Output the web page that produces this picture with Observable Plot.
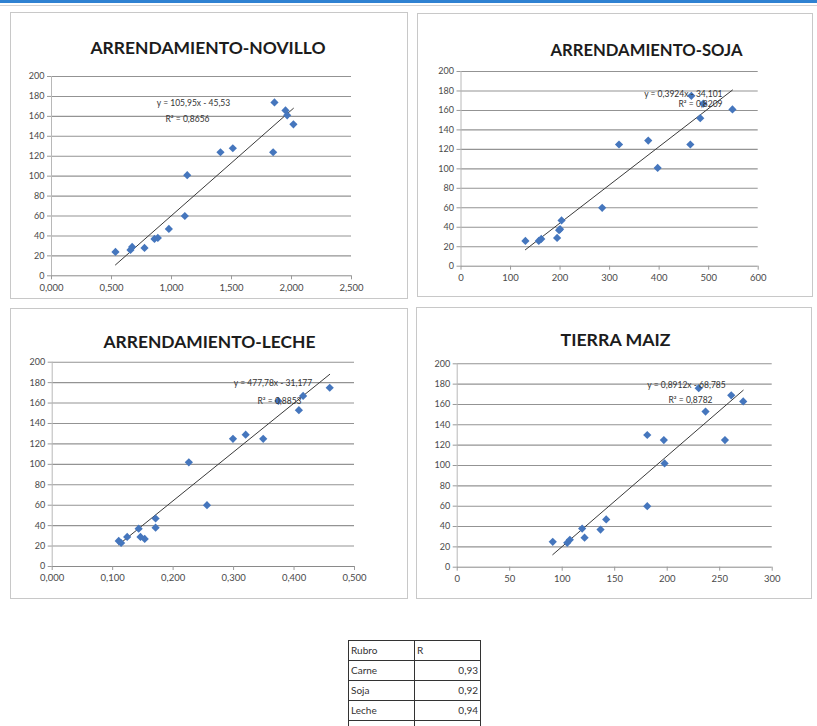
<!DOCTYPE html>
<html><head><meta charset="utf-8">
<script src="https://cdn.jsdelivr.net/npm/d3@7"></script>
<script src="https://cdn.jsdelivr.net/npm/@observablehq/plot@0.6"></script>
<style>
html,body{margin:0;padding:0;background:#fff;}
#page{position:relative;width:817px;height:726px;overflow:hidden;background:#fff;font-family:Lato,"Liberation Sans",sans-serif;}
.topbar{position:absolute;left:0;top:0;width:817px;height:3px;background:#2f82d2;}
.topline{position:absolute;left:0;top:5px;width:817px;height:1px;background:#d4d4d4;}
.frame{position:absolute;border:1px solid #c8c8c8;box-sizing:border-box;pointer-events:none;}
.panel{position:absolute;}
.panel svg{display:block;}
#tbl{position:absolute;left:348px;top:640px;border-collapse:collapse;font-family:Lato,"Liberation Sans",sans-serif;font-size:10px;color:#333;}
#tbl td{border:1px solid #333;width:66px;height:19px;padding:0 2px;box-sizing:border-box;line-height:19px;}
#tbl td.num{text-align:right;}
</style></head><body>
<div id="page"><div class="topbar"></div><div class="topline"></div></div>
<script>
// ---------- data ----------
const titles = ["ARRENDAMIENTO-NOVILLO", "ARRENDAMIENTO-SOJA", "ARRENDAMIENTO-LECHE", "TIERRA MAIZ"];
const yTicks = [0, 20, 40, 60, 80, 100, 120, 140, 160, 180, 200];

const novilloXTicks = [0, 0.5, 1.0, 1.5, 2.0, 2.5];
const novilloX = [0.533, 0.658, 0.672, 0.775, 0.858, 0.886, 0.978, 1.111, 1.131, 1.408, 1.511, 1.847, 1.858, 1.950, 1.964, 2.016];
const novilloY = [24, 26, 29, 28, 37, 38, 47, 60, 101, 124, 128, 124, 174, 166, 161, 152];

const sojaXTicks = [0, 100, 200, 300, 400, 500, 600];
const sojaX = [130, 157, 162, 194, 198, 200, 203, 285, 319, 378, 397, 463, 465, 483, 489, 548];
const sojaY = [26, 26, 28, 29, 37, 38, 47, 60, 125, 129, 101, 125, 175, 152, 167, 161];

const lecheXTicks = [0, 0.1, 0.2, 0.3, 0.4, 0.5];
const lecheX = [0.110, 0.114, 0.124, 0.143, 0.146, 0.153, 0.171, 0.171, 0.226, 0.256, 0.299, 0.320, 0.349, 0.374, 0.408, 0.415, 0.459];
const lecheY = [25, 23, 29, 37, 29, 27, 47, 38, 102, 60, 125, 129, 125, 162, 153, 167, 175];

const maizXTicks = [0, 50, 100, 150, 200, 250, 300];
const maizX = [91, 104.8, 107.3, 119, 121.3, 136.5, 141.9, 181, 181, 196.8, 197.5, 230, 236.5, 255, 261, 272.4];
const maizY = [25, 24, 27, 38, 29, 37, 47, 60, 130, 125, 102, 176, 153, 125, 169, 163];

// trend lines (slope, intercept) and their labels
const trendSlope = [105.95, 0.3924, 477.78, 0.8912];
const trendIntercept = [-45.53, -34.101, -31.177, -68.785];
const eqLabels = ["y = 105,95x - 45,53", "y = 0,3924x - 34,101", "y = 477,78x - 31,177", "y = 0,8912x - 68,785"];
const r2Labels = ["R² = 0,8656", "R² = 0,8209", "R² = 0,8853", "R² = 0,8782"];

const tableHeader = ["Rubro", "R"];
const tableRubro = ["Carne", "Soja", "Leche"];
const tableR = ["0,93", "0,92", "0,94"];

// ---------- layout ----------
const fmt3 = d => d.toFixed(3).replace(".", ",");
const fmt0 = d => String(d);
const panels = [
  {xs: novilloX, ys: novilloY, ticks: novilloXTicks, fmt: fmt3, left: 10, top: 12, w: 398, h: 287, ml: 41, mr: 57, mt: 64, mb: 23.7,
   title: [197.5, 29.7, 235], eq: [183, 87, 177, 103], anchor: "middle"},
  {xs: sojaX, ys: sojaY, ticks: sojaXTicks, fmt: fmt0, left: 417, top: 13, w: 396, h: 284, ml: 43.5, mr: 55.3, mt: 58, mb: 31.3,
   title: [229, 30, 192], eq: [305, 77, 305, 87], anchor: "end"},
  {xs: lecheX, ys: lecheY, ticks: lecheXTicks, fmt: fmt3, left: 10, top: 308, w: 398, h: 291, ml: 41.7, mr: 54, mt: 53.7, mb: 33,
   title: [199, 27, 212], eq: [262.5, 71, 269, 89], anchor: "middle"},
  {xs: maizX, ys: maizY, ticks: maizXTicks, fmt: fmt0, left: 416, top: 307, w: 396, h: 292, ml: 40.7, mr: 40.3, mt: 56.3, mb: 32.3,
   title: [199, 26, 110], eq: [270, 74, 274, 89.7], anchor: "middle"}
];

const page = document.getElementById("page");

panels.forEach((p, k) => {
  const idx = d3.range(p.xs.length);
  const ext = d3.extent(p.xs);
  const xmax = p.ticks[p.ticks.length - 1];
  const chart = Plot.plot({
    width: p.w, height: p.h,
    marginLeft: p.ml, marginRight: p.mr, marginTop: p.mt, marginBottom: p.mb,
    x: {domain: [0, xmax]},
    y: {domain: [0, 200]},
    style: {background: "transparent", fontFamily: "Lato, 'Liberation Sans', sans-serif", fontSize: "9px", color: "#404040", overflow: "visible"},
    marks: [
      Plot.ruleY(yTicks.filter(d => d > 0), {stroke: "#939393", strokeWidth: 1.1}),
      Plot.ruleX([0], {stroke: "#b8b8b8"}),
      Plot.ruleY([0], {stroke: "#8a8a8a"}),
      Plot.axisY(yTicks, {tickSize: 4, tickPadding: 3, label: null, stroke: "#9a9a9a", fill: "#4a4a4a", fontSize: 9}),
      Plot.axisX(p.ticks, {tickSize: 4, tickPadding: 4, label: null, tickFormat: p.fmt, stroke: "#9a9a9a", fill: "#4a4a4a", fontSize: 9.5}),
      Plot.line(ext, {x: d => d, y: d => trendSlope[k] * d + trendIntercept[k], stroke: "#3a3a3a", strokeWidth: 1}),
      Plot.dot(idx, {x: i => p.xs[i], y: i => p.ys[i], symbol: "diamond2", r: 3.7, fill: "#4576bd", stroke: "none"}),
      Plot.text([eqLabels[k]], {frameAnchor: "top-left", dx: p.eq[0] - p.ml, dy: p.eq[1] - p.mt, textAnchor: p.anchor, fontSize: 8.5, fill: "#333"}),
      Plot.text([r2Labels[k]], {frameAnchor: "top-left", dx: p.eq[2] - p.ml, dy: p.eq[3] - p.mt, textAnchor: p.anchor, fontSize: 8.5, fill: "#333"}),
      Plot.text([titles[k]], {frameAnchor: "top-left", dx: p.title[0] - p.ml, dy: p.title[1] - p.mt, textAnchor: "middle", fontSize: 17, fontWeight: "bold", fill: "#1c1c1c"})
    ]
  });
  d3.select(chart).selectAll("text").each(function() {
    if (this.textContent === titles[k]) {
      this.setAttribute("textLength", p.title[2]);
      this.setAttribute("lengthAdjust", "spacingAndGlyphs");
    }
  });
  const holder = document.createElement("div");
  holder.className = "panel";
  holder.style.left = p.left + "px";
  holder.style.top = p.top + "px";
  holder.appendChild(chart);
  page.appendChild(holder);
  const frame = document.createElement("div");
  frame.className = "frame";
  frame.style.left = p.left + "px";
  frame.style.top = p.top + "px";
  frame.style.width = p.w + "px";
  frame.style.height = p.h + "px";
  page.appendChild(frame);
});

// table
const tbl = document.createElement("table");
tbl.id = "tbl";
const rows = [[tableHeader[0], tableHeader[1], false]].concat(tableRubro.map((r, i) => [r, tableR[i], true])).concat([["", "", false]]);
rows.forEach(r => {
  const tr = document.createElement("tr");
  const a = document.createElement("td"); a.textContent = r[0];
  const b = document.createElement("td"); b.textContent = r[1]; if (r[2]) b.className = "num";
  tr.appendChild(a); tr.appendChild(b); tbl.appendChild(tr);
});
page.appendChild(tbl);
</script>
</body></html>
